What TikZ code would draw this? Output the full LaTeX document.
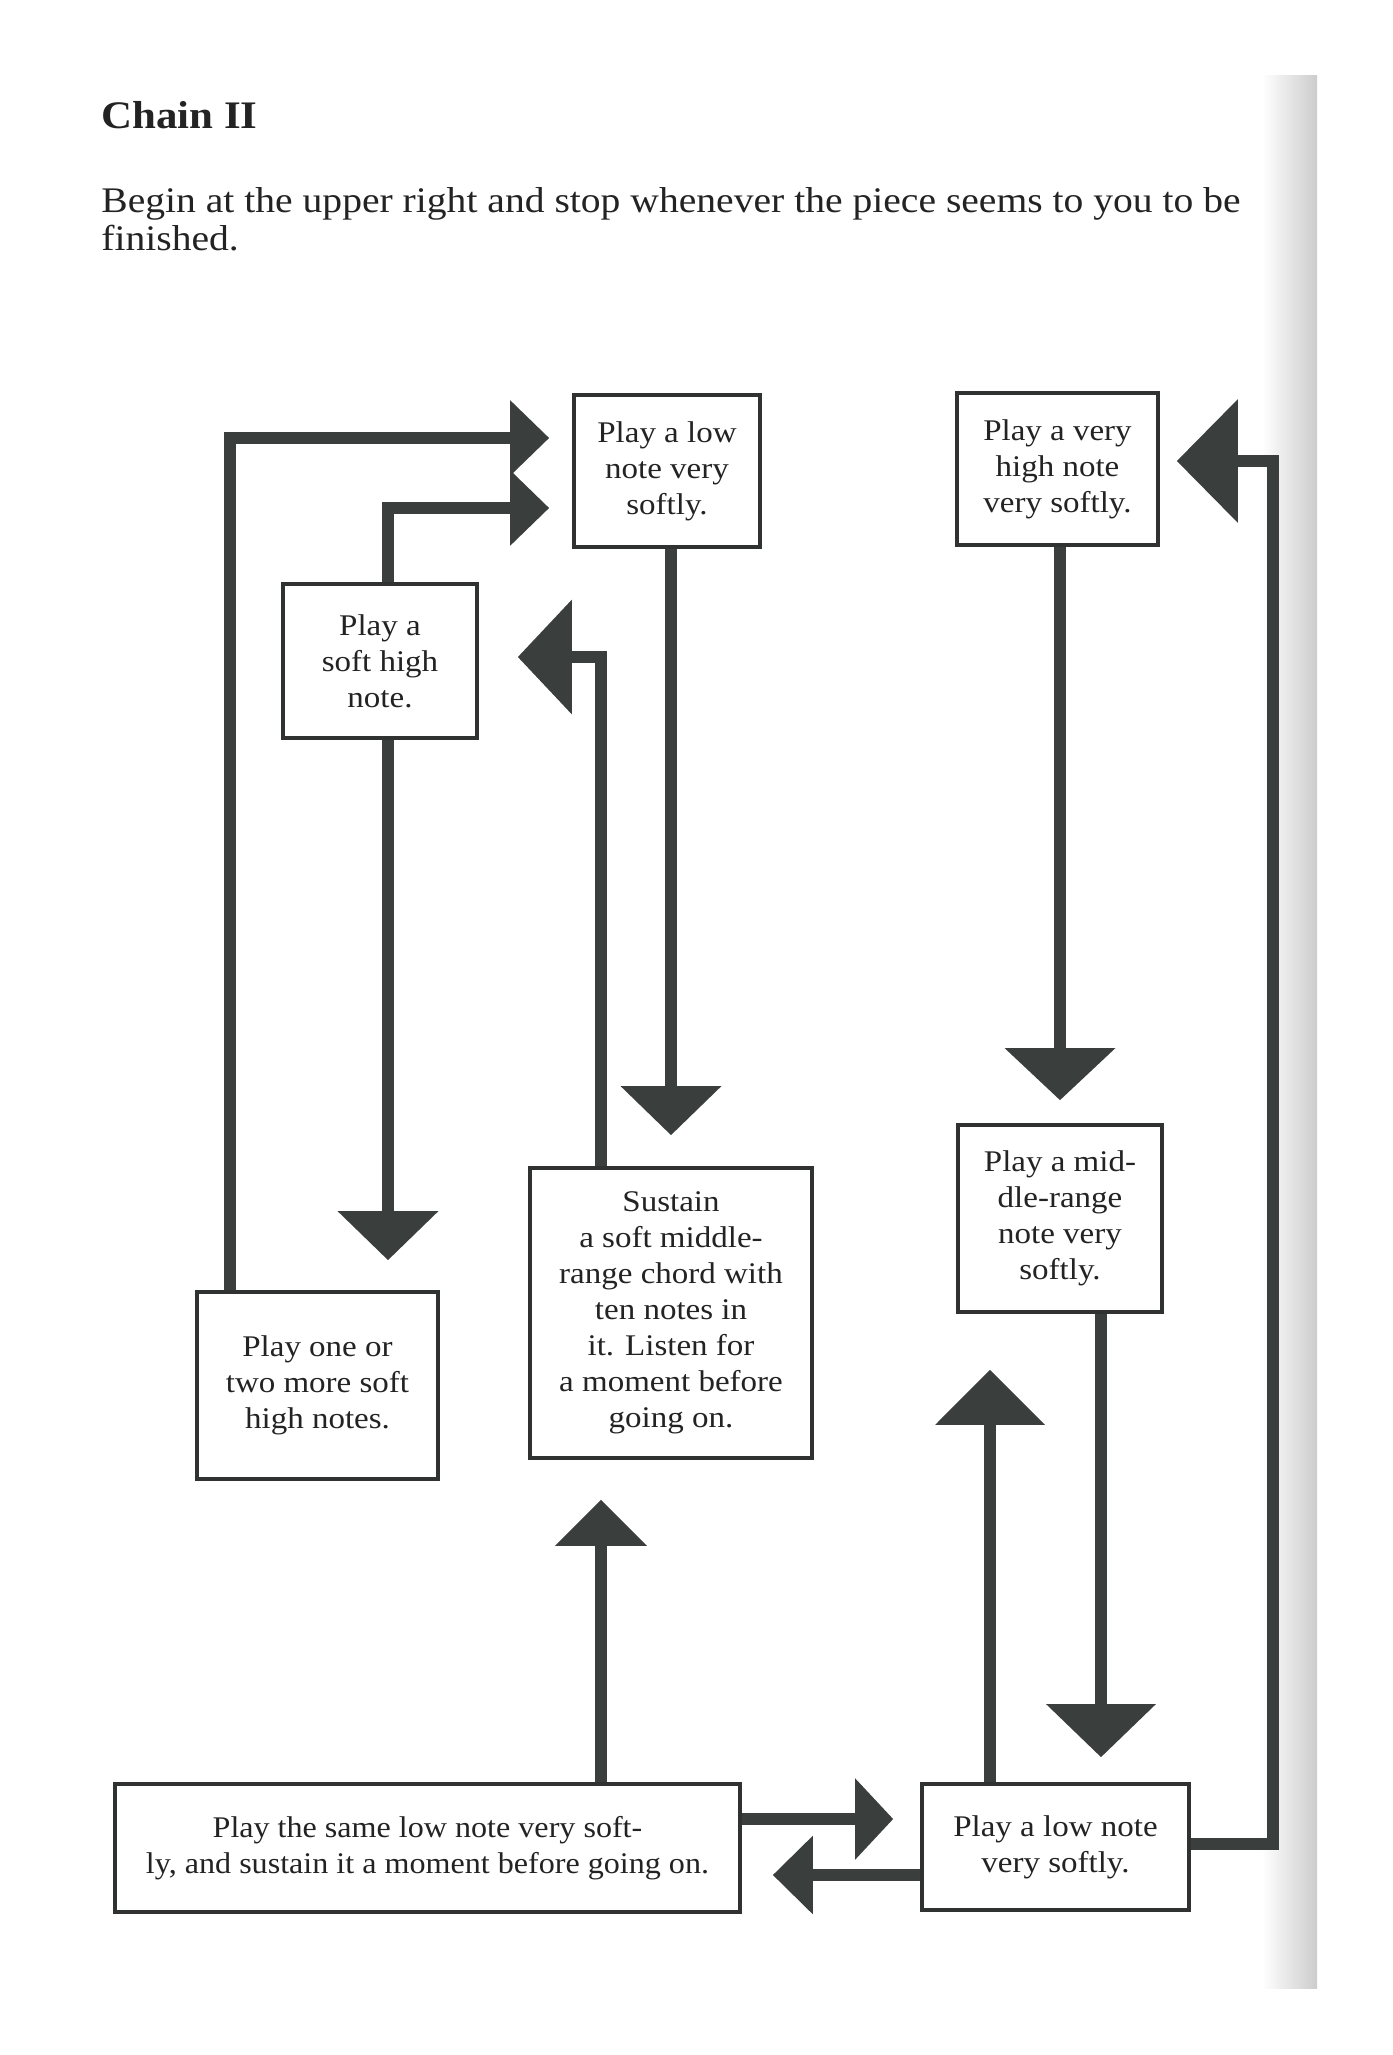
\documentclass[tikz,border=0pt]{standalone}
\usepackage{fontspec}
\setmainfont{Liberation Serif}[FakeStretch=1.1]
\newfontfamily\gfont{Liberation Serif}[FakeStretch=1.07]
\usetikzlibrary{arrows.meta}
\definecolor{ink}{RGB}{58,62,60}
\definecolor{boxline}{RGB}{48,50,49}
\definecolor{txt}{RGB}{35,35,35}
\begin{document}
\begin{tikzpicture}[x=0.5pt,y=-0.5pt,
  box/.style={draw=boxline, line width=1.8pt, fill=white, inner sep=0pt,
    align=center, text=txt, font=\fontsize{15}{18}\selectfont},
  conn/.style={draw=ink, line width=5.75pt, line join=miter, line cap=butt},
  head/.style n args={2}{-{Triangle[width=#1,length=#2]}}
]
\useasboundingbox (0,0) rectangle (1392,2055);
% page-edge shadow
\shade[left color=white, right color=black!20] (1262,76) rectangle (1317,1988);

\node[anchor=base west, inner sep=0pt, text=txt, font=\fontsize{19.5}{24}\selectfont\bfseries] (title) at (101,128) {Chain II};
\node[anchor=base west, inner sep=0pt, text=txt, font=\fontsize{18}{19}\selectfont] (intro1) at (101,212) {Begin at the upper right and stop whenever the piece seems to you to be};
\node[anchor=base west, inner sep=0pt, text=txt, font=\fontsize{18}{19}\selectfont] (intro2) at (101,250) {finished.};

% boxes
\node[box, minimum width=93pt, minimum height=76pt] (A) at (667,471) {Play a low\\note very\\softly.};
\node[box, minimum width=100.5pt, minimum height=76pt] (B) at (1057.5,469) {Play a very\\high note\\very softly.};
\node[box, minimum width=97pt, minimum height=77pt] (C) at (380,661) {Play a\\soft high\\note.};
\node[box, minimum width=141pt, minimum height=145pt] (D) at (671,1313) {Sustain\\a soft middle-\\range chord with\\ten notes in\\it. Listen for\\a moment before\\going on.};
\node[box, minimum width=102pt, minimum height=93.5pt] (E) at (1060,1218.5) {Play a mid-\\dle-range\\note very\\softly.};
\node[box, minimum width=120.5pt, minimum height=93.5pt] (F) at (317.5,1385.5) {Play one or\\two more soft\\high notes.};
\node[box, minimum width=312.5pt, minimum height=64pt, font=\gfont\fontsize{15}{18}\selectfont] (G) at (427.5,1848) {Play the same low note very soft-\\ly, and sustain it a moment before going on.};
\node[box, minimum width=133.5pt, minimum height=63pt] (H) at (1055.5,1847) {Play a low note\\very softly.};

% bend / column coordinates
\coordinate (k1) at (230,438);
\coordinate (k2) at (388,508);
\coordinate (k3) at (671,0);
\coordinate (k4) at (601,657);
\coordinate (k5) at (388,0);
\coordinate (k6) at (1060,0);
\coordinate (k7) at (1101,0);
\coordinate (k8) at (990,0);
\coordinate (k9a) at (1273,1844);
\coordinate (k9b) at (1273,461);
\coordinate (k10) at (601,0);
\coordinate (k11) at (0,1819);
\coordinate (k12) at (0,1875);

% connectors
\draw[conn, head={36.5pt}{19.5pt}, shorten >=11.5pt] (F.north -| k1) -- (k1) -- (A.west |- k1);
\draw[conn, head={36.5pt}{19.5pt}, shorten >=11.5pt] (C.north -| k2) -- (k2) -- (A.west |- k2);
\draw[conn, head={49pt}{24.5pt}, shorten >=15.5pt] (A.south -| k3) -- (D.north -| k3);
\draw[conn, head={56pt}{27pt}, shorten >=19.5pt] (D.north -| k4) -- (k4) -- (C.east |- k4);
\draw[conn, head={49pt}{24.5pt}, shorten >=15pt] (C.south -| k5) -- (F.north -| k5);
\draw[conn, head={54pt}{26pt}, shorten >=11.5pt] (B.south -| k6) -- (E.north -| k6);
\draw[conn, head={53.5pt}{26.5pt}, shorten >=12.5pt] (E.south -| k7) -- (H.north -| k7);
\draw[conn, head={53.5pt}{27.5pt}, shorten >=28pt] (H.north -| k8) -- (E.south -| k8);
\draw[conn, head={60.5pt}{30.5pt}, shorten >=8.5pt] (H.east |- k9a) -- (k9a) -- (k9b) -- (B.east |- k9b);
\draw[conn, head={44.5pt}{23pt}, shorten >=20pt] (G.north -| k10) -- (D.south -| k10);
\draw[conn, head={39.5pt}{19pt}, shorten >=13.5pt] (G.east |- k11) -- (H.west |- k11);
\draw[conn, head={38pt}{20pt}, shorten >=15.5pt] (H.west |- k12) -- (G.east |- k12);
\end{tikzpicture}
\end{document}
